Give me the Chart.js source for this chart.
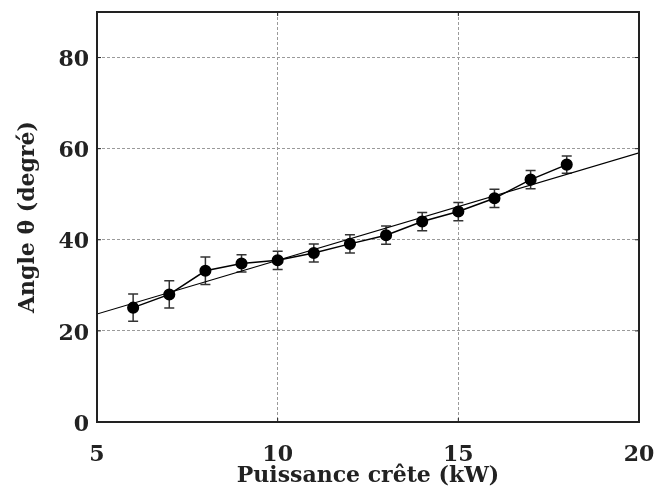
<!DOCTYPE html>
<html>
<head>
<meta charset="utf-8">
<script src="https://cdn.jsdelivr.net/npm/chart.js@4/dist/chart.umd.min.js"></script>
<style>
  html, body { margin: 0; padding: 0; background: #fff; }
  #wrap { width: 656px; height: 494px; }
</style>
</head>
<body>
<div id="wrap"><canvas id="angle-chart" width="656" height="494"></canvas></div>
<script>
// measured angle vs peak power
const power = [6, 7, 8, 9, 10, 11, 12, 13, 14, 15, 16, 17, 18];
const angle = [25.1, 28.0, 33.2, 34.8, 35.5, 37.1, 39.1, 41.0, 44.0, 46.2, 49.1, 53.2, 56.5];
const angleErr = [3.0, 3.0, 3.0, 1.9, 2.0, 2.0, 2.0, 2.0, 2.0, 2.0, 2.0, 2.0, 1.9];

// linear fit, drawn across the whole x range
const fitX = [5, 20];
const fitY = [23.7, 59.1];

const xMin = 5, xMax = 20, xStep = 5;
const yMin = 0, yMax = 90, yStep = 20;

const fontFamily = "'DejaVu Serif', serif";
const inkColor = '#222';

const toPoints = (xs, ys) => xs.map((x, i) => ({ x: x, y: ys[i] }));

// error bars + frame around plot area
const errorBars = {
    id: 'errorBars',
    beforeDatasetsDraw(chart) {
        const ctx = chart.ctx;
        const xs = chart.scales.x, ys = chart.scales.y;
        ctx.save();
        ctx.strokeStyle = '#333';
        ctx.lineWidth = 1.5;
        for (let i = 0; i < power.length; i++) {
            const px = xs.getPixelForValue(power[i]);
            const top = ys.getPixelForValue(angle[i] + angleErr[i]);
            const bot = ys.getPixelForValue(angle[i] - angleErr[i]);
            ctx.beginPath();
            ctx.moveTo(px, top); ctx.lineTo(px, bot);
            ctx.moveTo(px - 5, top); ctx.lineTo(px + 5, top);
            ctx.moveTo(px - 5, bot); ctx.lineTo(px + 5, bot);
            ctx.stroke();
        }
        ctx.restore();
    }
};

const frame = {
    id: 'frame',
    afterDraw(chart) {
        const ctx = chart.ctx;
        const a = chart.chartArea;
        ctx.save();
        ctx.strokeStyle = inkColor;
        ctx.lineWidth = 1;
        // little inward tick marks
        ctx.beginPath();
        chart.scales.y.ticks.forEach(t => {
            const py = chart.scales.y.getPixelForValue(t.value);
            ctx.moveTo(a.left, py); ctx.lineTo(a.left + 4, py);
            ctx.moveTo(a.right, py); ctx.lineTo(a.right - 4, py);
        });
        chart.scales.x.ticks.forEach(t => {
            const px = chart.scales.x.getPixelForValue(t.value);
            ctx.moveTo(px, a.bottom); ctx.lineTo(px, a.bottom - 4);
            ctx.moveTo(px, a.top); ctx.lineTo(px, a.top + 4);
        });
        ctx.stroke();
        ctx.lineWidth = 2;
        ctx.strokeRect(a.left, a.top, a.right - a.left, a.bottom - a.top);
        ctx.restore();
    }
};

const gridColor = (min, max) => c =>
    (c.tick && (c.tick.value === min || c.tick.value === max)) ? 'rgba(0,0,0,0)' : '#9a9a9a';

// don't let edge labels push the plot area inward
const noEdgePadding = s => {
    s.paddingLeft = 0; s.paddingRight = 0;
    s.paddingTop = 0; s.paddingBottom = 0;
};

const angleChart = new Chart(document.getElementById('angle-chart'), {
    type: 'scatter',
    data: {
        datasets: [{
            label: 'mesure',
            data: toPoints(power, angle),
            showLine: true,
            borderColor: '#000',
            borderWidth: 1.5,
            backgroundColor: '#000',
            pointRadius: 5.3,
            pointBackgroundColor: '#000',
            pointBorderColor: '#000',
            order: 1
        }, {
            label: 'ajustement',
            data: toPoints(fitX, fitY),
            showLine: true,
            borderColor: '#000',
            borderWidth: 1.2,
            pointRadius: 0,
            order: 2
        }]
    },
    options: {
        responsive: false,
        animation: { duration: 0 },
        layout: { padding: { top: 12, right: 17, left: 0, bottom: 0 } },
        plugins: {
            legend: { display: false },
            tooltip: { enabled: false }
        },
        scales: {
            x: {
                type: 'linear',
                min: xMin,
                max: xMax,
                afterFit: s => { s.height = 72; noEdgePadding(s); },
                ticks: {
                    stepSize: xStep,
                    padding: 20,
                    color: inkColor,
                    font: { family: fontFamily, size: 22, weight: 'bold' }
                },
                grid: { color: gridColor(xMin, xMax), drawTicks: false, lineWidth: 1 },
                border: { display: false, dash: [3, 2] },
                title: {
                    display: true,
                    text: 'Puissance crête (kW)',
                    color: inkColor,
                    padding: { top: 0, bottom: 5 },
                    font: { family: fontFamily, size: 22, weight: 'bold' }
                }
            },
            y: {
                type: 'linear',
                min: yMin,
                max: yMax,
                afterFit: s => { s.width = 97; noEdgePadding(s); },
                ticks: {
                    stepSize: yStep,
                    includeBounds: false,
                    padding: 8,
                    labelOffset: 3,
                    color: inkColor,
                    font: { family: fontFamily, size: 22, weight: 'bold' }
                },
                grid: { color: gridColor(yMin, yMax), drawTicks: false, lineWidth: 1 },
                border: { display: false, dash: [3, 2] },
                title: {
                    display: true,
                    text: 'Angle θ (degré)',
                    color: inkColor,
                    padding: { top: 15, bottom: 0 },
                    font: { family: fontFamily, size: 22, weight: 'bold' }
                }
            }
        }
    },
    plugins: [errorBars, frame]
});
</script>
</body>
</html>
